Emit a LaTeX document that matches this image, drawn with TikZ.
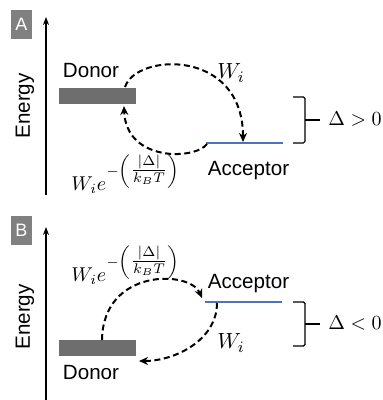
\documentclass[tikz,border=0pt]{standalone}
\usepackage{amsmath}
\usepackage{fontspec}
\setmainfont{Liberation Sans}
\usepackage{tikz}
\usetikzlibrary{positioning,arrows.meta}
\definecolor{bargray}{HTML}{6E6E6E}
\definecolor{boxgray}{HTML}{808080}
\definecolor{accblue}{HTML}{4A74C0}
\tikzstyle{panel} = [rectangle, fill=boxgray, text=white, minimum width=10.5pt, minimum height=14.5pt, inner sep=0pt, font=\fontsize{9}{10}\selectfont]
\tikzstyle{donor} = [rectangle, fill=bargray, minimum width=38.5pt, minimum height=8pt, inner sep=0pt]
\tikzstyle{tag} = [inner sep=0pt, font=\fontsize{10.3}{12}\selectfont]
\tikzstyle{rate} = [inner sep=0pt, font=\fontsize{10.8}{12}\selectfont]
\tikzstyle{sign} = [inner sep=0pt, font=\fontsize{10}{12}\selectfont]
\tikzstyle{axis} = [draw, line width=0.65pt, -{Stealth[length=4pt,width=3pt]}]
\tikzstyle{acc} = [draw=accblue, line width=0.9pt]
\tikzstyle{hop} = [draw, line width=1pt, dash pattern=on 3pt off 1.8pt, -{Stealth[length=4.5pt,width=4pt]}]
\tikzstyle{gap} = [draw, line width=0.6pt, rounded corners=0.8pt]

\begin{document}
\begin{tikzpicture}[x=0.5pt, y=0.5pt]
	\useasboundingbox (0,0) rectangle (383,400);

	% panel A: donor above acceptor
	\node [panel] (pA) at (21.5,375.5) {A};
	\coordinate (axA0) at (46,205);
	\coordinate (axA1) at (46,383);
	\draw [axis] (axA0) -- (axA1);
	\node [tag, rotate=90] (enA) at (25,294) {Energy};
	\node [donor] (donA) at (97.5,304) {};
	\node [tag, anchor=base] (tdA) at (91,322.3) {Donor};
	\coordinate (accAl) at (206,257);
	\coordinate (accAr) at (283,257);
	\draw [acc] (accAl) -- (accAr);
	\node [tag, anchor=base] (taA) at (248.5,224.5) {Acceptor};
	% hops in A
	\coordinate (sA1) at (125,313);
	\coordinate (eA1) at (243,258);
	\coordinate (sA2) at (207,256);
	\coordinate (eA2) at (124,294);
	\path [hop] (sA1) .. controls (136,347) and (243,352) .. (eA1);
	\path [hop] (sA2) .. controls (195,240) and (126,238) .. (eA2);
	\node [rate, anchor=base] (wA) at (231,321) {$W_i$};
	\node [sign, anchor=base west] (bA) at (71,209) {$W_i e^{-\left(\genfrac{}{}{}{1}{|\Delta|}{k_B T}\right)}$};
	% gap A
	\draw [gap] (293,303) -- (305,303) -- (305,257) -- (293,257);
	\draw [gap] (305,280) -- (320,280);
	\node [sign, anchor=base west] (dA) at (328,274) {$\Delta > 0$};

	% panel B: acceptor above donor
	\node [panel] (pB) at (21.5,169.3) {B};
	\coordinate (axB0) at (46,0);
	\coordinate (axB1) at (46,173);
	\draw [axis] (axB0) -- (axB1);
	\node [tag, rotate=90] (enB) at (25,83) {Energy};
	\node [donor] (donB) at (97.5,51.5) {};
	\node [tag, anchor=base] (tdB) at (91,20) {Donor};
	\coordinate (accBl) at (205,98);
	\coordinate (accBr) at (282,98);
	\draw [acc] (accBl) -- (accBr);
	\node [tag, anchor=base] (taB) at (248.5,111) {Acceptor};
	% hops in B
	\coordinate (sB1) at (102,60);
	\coordinate (eB1) at (202,102);
	\coordinate (sB2) at (217,97);
	\coordinate (eB2) at (139,39);
	\path [hop] (sB1) .. controls (103,132) and (190,130) .. (eB1);
	\path [hop] (sB2) .. controls (217,60) and (175,39) .. (eB2);
	\node [rate, anchor=base] (wB) at (231,51) {$W_i$};
	\node [sign, anchor=base west] (bB) at (71,118) {$W_i e^{-\left(\genfrac{}{}{}{1}{|\Delta|}{k_B T}\right)}$};
	% gap B
	\draw [gap] (293,98) -- (305,98) -- (305,54) -- (293,54);
	\draw [gap] (305,76) -- (320,76);
	\node [sign, anchor=base west] (dB) at (328,70) {$\Delta < 0$};
\end{tikzpicture}
\end{document}
